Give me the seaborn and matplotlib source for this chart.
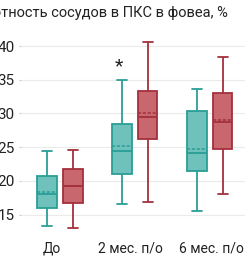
import numpy as np
import pandas as pd
import matplotlib
matplotlib.use("Agg")
import matplotlib.pyplot as plt
import matplotlib.transforms as mtransforms
import seaborn as sns

categories = ["До", "2 мес. п/о", "6 мес. п/о"]
groups = ["Группа 1", "Группа 2"]

# five-number summaries per category (min, Q1, median, Q3, max)
g1_min = [13.3, 16.6, 15.6]
g1_q1 = [16.0, 21.0, 21.5]
g1_med = [18.0, 24.5, 24.1]
g1_q3 = [20.8, 28.4, 30.4]
g1_max = [24.5, 34.9, 33.6]
g1_mean = [18.3, 25.2, 24.7]

g2_min = [13.1, 16.9, 18.0]
g2_q1 = [16.8, 26.2, 24.8]
g2_med = [19.2, 29.5, 28.8]
g2_q3 = [21.8, 33.4, 33.0]
g2_max = [24.6, 40.6, 38.3]
g2_mean = [19.3, 30.0, 29.0]

title = "Плотность сосудов в ПКС в фовеа, %"
yticks = [15, 20, 25, 30, 35, 40]
star_cat = "2 мес. п/о"
star_y = 37.0

fills = {"Группа 1": "#6fc1bc", "Группа 2": "#c8676d"}
edges = {"Группа 1": "#2a9e96", "Группа 2": "#a3303d"}

rows = []
for i, c in enumerate(categories):
    for g, arrs in ((groups[0], (g1_min, g1_q1, g1_med, g1_q3, g1_max)),
                    (groups[1], (g2_min, g2_q1, g2_med, g2_q3, g2_max))):
        for a in arrs:
            rows.append({"cat": c, "grp": g, "val": a[i]})
df = pd.DataFrame(rows)

sns.set_theme(style="white")
plt.rcParams["font.family"] = ["Roboto", "DejaVu Sans"]

fig = plt.figure(figsize=(2.45, 2.59), dpi=100)
ax = fig.add_axes([21/245, 0.0927, 1 - 21/245, 0.8745 - 0.0927])

sns.boxplot(data=df, x="cat", y="val", hue="grp", order=categories,
            hue_order=groups, palette=fills, whis=(0, 100), width=0.69,
            gap=0.25, linewidth=1.3, legend=False, ax=ax, zorder=3)

# recolor edges per hue
for p in ax.patches:
    verts = p.get_path().vertices
    xc = verts[:, 0].mean()
    g = groups[0] if xc < round(xc) else groups[1]
    p.set_edgecolor(edges[g])
    p.set_facecolor(fills[g])
for ln in ax.lines:
    xd = np.asarray(ln.get_xdata(), dtype=float)
    if xd.size == 0:
        continue
    xc = xd.mean()
    g = groups[0] if xc < round(xc) else groups[1]
    ln.set_color(edges[g])

# mean lines (dashed)
boxes = sorted(ax.patches, key=lambda p: p.get_path().vertices[:, 0].mean())
means = []
for i in range(len(categories)):
    means += [g1_mean[i], g2_mean[i]]
for p, m in zip(boxes, means):
    v = p.get_path().vertices
    x0, x1 = v[:, 0].min(), v[:, 0].max()
    xc = v[:, 0].mean()
    g = groups[0] if xc < round(xc) else groups[1]
    ax.hlines(m, x0, x1, colors=edges[g], linestyles=(0, (2, 1.2)),
              linewidth=1.1, zorder=5)

# asterisk
ci = categories.index(star_cat)
star_box = boxes[2 * ci]
sx = star_box.get_path().vertices[:, 0].mean()
ax.text(sx, star_y, "*", ha="center", va="center", fontsize=14,
        color="#222222")

ax.set_xlim(-0.52, 2.47)
ax.set_ylim(12, 42)
ax.set_yticks(yticks)
ax.set_yticklabels([str(t) for t in yticks])
ax.yaxis.grid(True, color="#ebebeb", linewidth=0.8, zorder=0)
ax.set_axisbelow(True)
for s in ax.spines.values():
    s.set_visible(False)
ax.tick_params(axis="y", length=1.5, width=0.8, color="#cccccc", pad=3,
               labelsize=11, labelcolor="#222222", left=True)
ax.tick_params(axis="x", length=0, pad=5, labelsize=10, labelcolor="#222222")
ax.set_xlabel("")
ax.set_ylabel("")

# small horizontal nudges of the category labels (in pixels)
for lbl, dx in zip(ax.get_xticklabels(), [-8, -4, 2]):
    lbl.set_transform(lbl.get_transform() +
                      mtransforms.ScaledTranslation(dx / 100, 0, fig.dpi_scale_trans))

fig.text(228/245, 1 - 17/259, title, ha="right", va="baseline",
         fontsize=10.5, color="#222222")

fig.savefig("out.png", dpi=100)
